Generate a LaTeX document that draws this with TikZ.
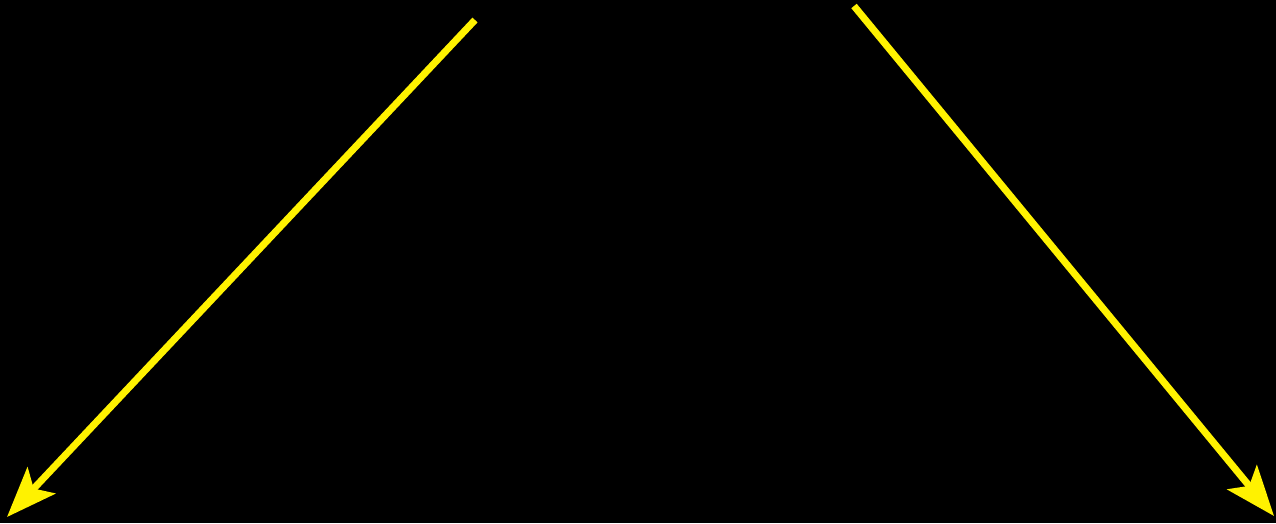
\documentclass[tikz,border=0pt]{standalone}
\usetikzlibrary{arrows.meta}

\begin{document}
\begin{tikzpicture}[x=1pt,y=-1pt,
    ray/.style={draw=yellow,line width=7pt,
      -{Stealth[length=50pt,width=38pt,inset=11pt]}}]
  % black backdrop, fixes the page size
  \fill[black] (0,0) rectangle (1276,523);
  \useasboundingbox (0,0) rectangle (1276,523);
  % start and end points of the two rays
  \coordinate (lstart) at (475,20);
  \coordinate (ltip) at (7,517);
  \coordinate (rstart) at (854,6);
  \coordinate (rtip) at (1274,516);
  \draw[ray] (lstart) -- (ltip);
  \draw[ray] (rstart) -- (rtip);
\end{tikzpicture}
\end{document}
